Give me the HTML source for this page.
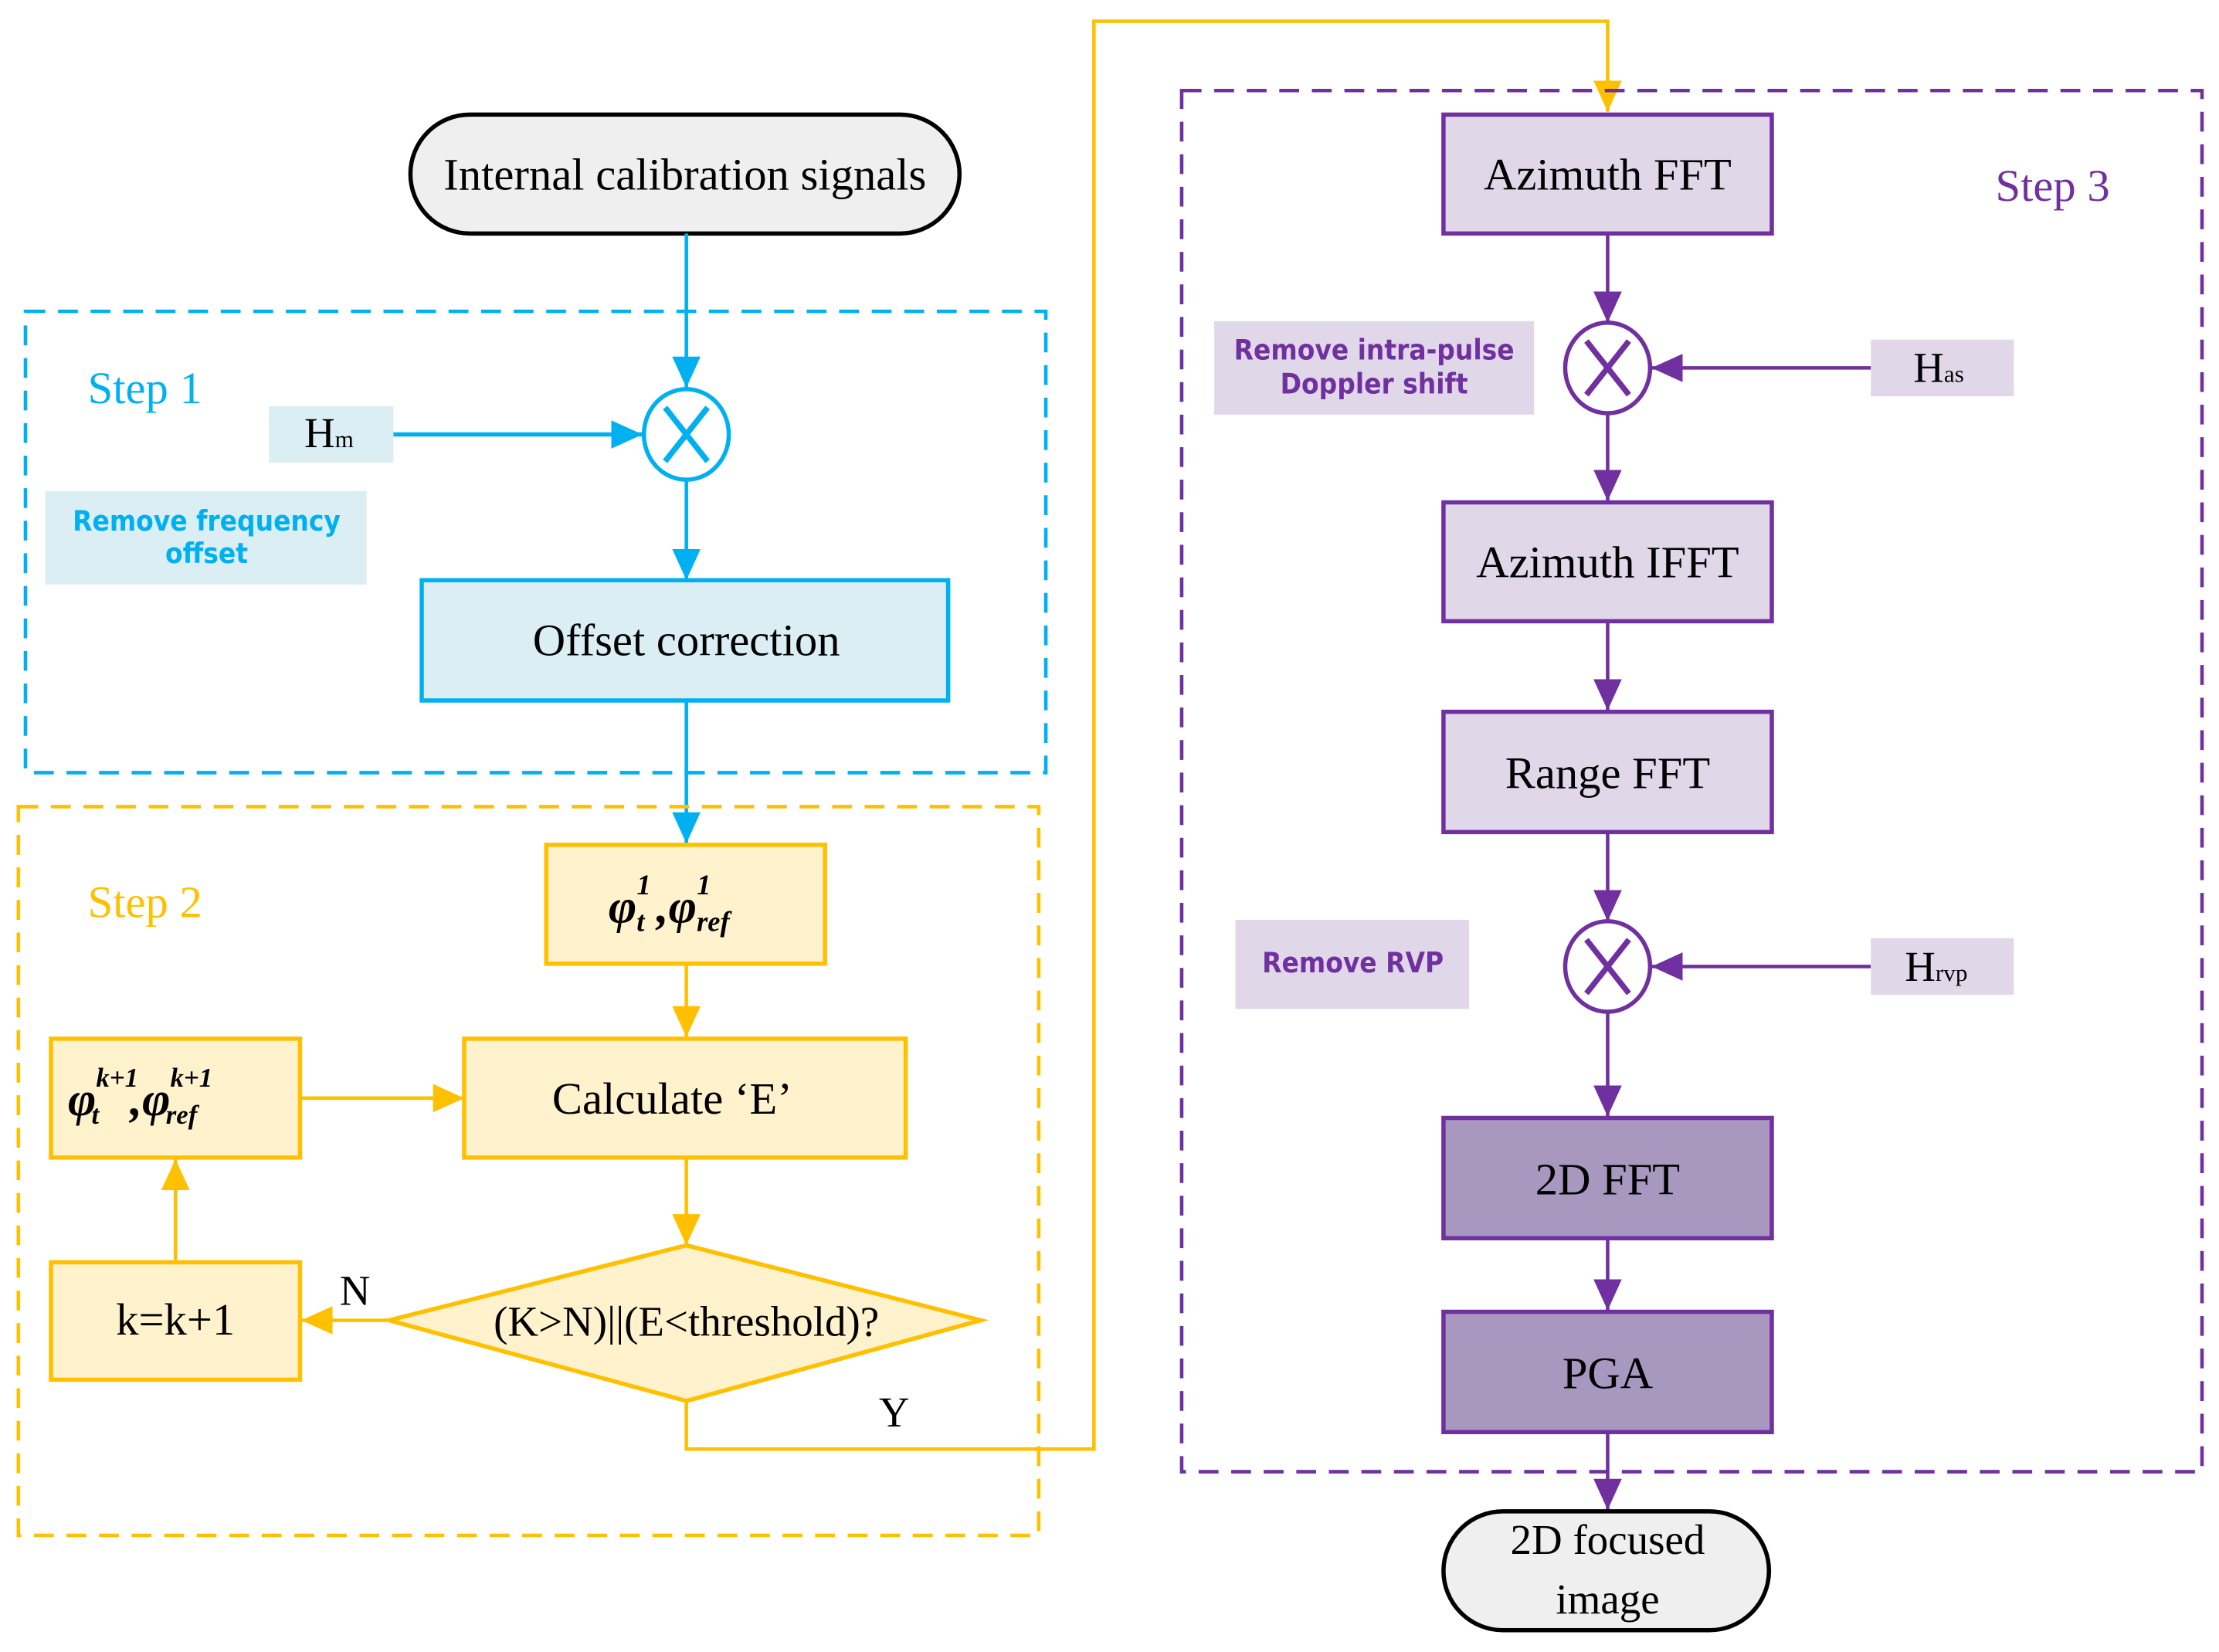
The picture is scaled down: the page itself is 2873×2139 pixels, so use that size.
<!DOCTYPE html>
<html><head><meta charset="utf-8"><style>html,body{margin:0;padding:0;background:#fff}svg{display:block}</style></head><body>
<svg width="2873" height="2139" viewBox="0 0 1568 1167.4" xmlns="http://www.w3.org/2000/svg" font-family="Liberation Serif, serif">
<defs>
<marker id="ab" markerWidth="10" markerHeight="10" refX="10" refY="5" orient="auto" markerUnits="userSpaceOnUse" viewBox="0 0 10 10"><path d="M0,0L10,5L0,10z" fill="#00b0f0"/></marker>
<marker id="ao" markerWidth="22" markerHeight="20" refX="22" refY="10" orient="auto" markerUnits="userSpaceOnUse"><path d="M0,0L22,10L0,20z" fill="#ffc000"/></marker>
<marker id="ap" markerWidth="22" markerHeight="20" refX="22" refY="10" orient="auto" markerUnits="userSpaceOnUse"><path d="M0,0L22,10L0,20z" fill="#7030a0"/></marker>
<marker id="ab2" markerWidth="22" markerHeight="20" refX="22" refY="10" orient="auto" markerUnits="userSpaceOnUse"><path d="M0,0L22,10L0,20z" fill="#00b0f0"/></marker>
</defs>

<!-- Step 1 -->
<rect x="18" y="220" width="721" height="326" fill="none" stroke="#00b0f0" stroke-width="2.5" stroke-dasharray="14,9"/>
<text x="62" y="285" font-size="32" fill="#00b0f0">Step 1</text>
<rect x="290" y="81" width="388" height="84" rx="42" fill="#efefef" stroke="#000" stroke-width="3"/>
<text x="484" y="134" font-size="32" text-anchor="middle">Internal calibration signals</text>
<line x1="485" y1="165" x2="485" y2="274" stroke="#00b0f0" stroke-width="2.5" marker-end="url(#ab2)"/>
<ellipse cx="485" cy="307" rx="30" ry="32" fill="#fff" stroke="#00b0f0" stroke-width="3"/>
<path d="M470,288L500,326M500,288L470,326" stroke="#00b0f0" stroke-width="4"/>
<rect x="190" y="287" width="88" height="40" fill="#dbeef4"/>
<text x="215" y="316" font-size="30">H<tspan font-size="17">m</tspan></text>
<line x1="278" y1="307" x2="454" y2="307" stroke="#00b0f0" stroke-width="3" marker-end="url(#ab2)"/>
<rect x="32" y="347" width="227" height="66" fill="#dbeef4"/>
<text x="146" y="375" font-size="20" font-weight="bold" fill="#00b0f0" text-anchor="middle" font-family="DejaVu Sans Condensed, DejaVu Sans, sans-serif">Remove frequency</text>
<text x="146" y="398" font-size="20" font-weight="bold" fill="#00b0f0" text-anchor="middle" font-family="DejaVu Sans Condensed, DejaVu Sans, sans-serif">offset</text>
<line x1="485" y1="339" x2="485" y2="410" stroke="#00b0f0" stroke-width="2.5" marker-end="url(#ab2)"/>
<rect x="298" y="410" width="372" height="85" fill="#dbeef4" stroke="#00b0f0" stroke-width="3"/>
<text x="485" y="463" font-size="32" text-anchor="middle">Offset correction</text>
<line x1="485" y1="495" x2="485" y2="596" stroke="#00b0f0" stroke-width="2.5" marker-end="url(#ab2)"/>

<!-- Step 2 -->
<rect x="13" y="570" width="721" height="515" fill="none" stroke="#ffc000" stroke-width="2.5" stroke-dasharray="14,9"/>
<text x="62" y="648" font-size="32" fill="#ffc000">Step 2</text>
<rect x="386" y="597" width="197" height="84" fill="#fff2cc" stroke="#ffc000" stroke-width="3"/>
<text x="430" y="652" font-size="34" font-weight="bold" font-style="italic">φ<tspan font-size="20" dy="-20">1</tspan><tspan font-size="20" dx="-10" dy="26">t</tspan><tspan dy="-6" font-size="34"> ,φ</tspan><tspan font-size="20" dy="-20">1</tspan><tspan font-size="20" dx="-10" dy="26">ref</tspan></text>
<line x1="485" y1="681" x2="485" y2="733" stroke="#ffc000" stroke-width="2.5" marker-end="url(#ao)"/>
<rect x="328" y="734" width="312" height="84" fill="#fff2cc" stroke="#ffc000" stroke-width="3"/>
<text x="475" y="787" font-size="32" text-anchor="middle">Calculate ‘E’</text>
<rect x="36" y="734" width="176" height="84" fill="#fff2cc" stroke="#ffc000" stroke-width="3"/>
<text x="48" y="788" font-size="34" font-weight="bold" font-style="italic">φ<tspan font-size="19" dy="-20">k+1</tspan><tspan font-size="19" dx="-33" dy="26">t</tspan><tspan dy="-6" font-size="34" dx="22">,φ</tspan><tspan font-size="19" dy="-20">k+1</tspan><tspan font-size="19" dx="-33" dy="26">ref</tspan></text>
<line x1="212" y1="776" x2="328" y2="776" stroke="#ffc000" stroke-width="2.5" marker-end="url(#ao)"/>
<line x1="485" y1="818" x2="485" y2="880" stroke="#ffc000" stroke-width="2.5" marker-end="url(#ao)"/>
<path d="M485,880L693,933L485,990L275,933z" fill="#fff2cc" stroke="#ffc000" stroke-width="3"/>
<text x="485" y="944" font-size="30" text-anchor="middle">(K&gt;N)||(E&lt;threshold)?</text>
<line x1="275" y1="933" x2="213" y2="933" stroke="#ffc000" stroke-width="2.5" marker-end="url(#ao)"/>
<text x="240" y="922" font-size="30">N</text>
<rect x="36" y="892" width="176" height="83" fill="#fff2cc" stroke="#ffc000" stroke-width="3"/>
<text x="124" y="943" font-size="32" text-anchor="middle">k=k+1</text>
<line x1="124" y1="892" x2="124" y2="819" stroke="#ffc000" stroke-width="2.5" marker-end="url(#ao)"/>
<text x="621" y="1008" font-size="30">Y</text>
<polyline points="485,990 485,1024 773,1024 773,15 1136,15 1136,79" fill="none" stroke="#ffc000" stroke-width="2.5" marker-end="url(#ao)"/>

<!-- Step 3 -->
<rect x="835" y="64" width="721" height="976" fill="none" stroke="#7030a0" stroke-width="2.5" stroke-dasharray="14,9"/>
<text x="1410" y="142" font-size="32" fill="#7030a0">Step 3</text>
<g stroke="#7030a0" stroke-width="3">
<rect x="1020" y="81" width="232" height="84" fill="#e0d8e8"/>
<rect x="1020" y="355" width="232" height="84" fill="#e0d8e8"/>
<rect x="1020" y="503" width="232" height="85" fill="#e0d8e8"/>
<rect x="1020" y="790" width="232" height="85" fill="#a898c0"/>
<rect x="1020" y="927" width="232" height="85" fill="#a898c0"/>
</g>
<text x="1136" y="134" font-size="32" text-anchor="middle">Azimuth FFT</text>
<text x="1136" y="408" font-size="32" text-anchor="middle">Azimuth IFFT</text>
<text x="1136" y="557" font-size="32" text-anchor="middle">Range FFT</text>
<text x="1136" y="844" font-size="32" text-anchor="middle">2D FFT</text>
<text x="1136" y="981" font-size="32" text-anchor="middle">PGA</text>
<g stroke="#7030a0" stroke-width="2.5">
<line x1="1136" y1="165" x2="1136" y2="228" marker-end="url(#ap)"/>
<line x1="1136" y1="292" x2="1136" y2="354" marker-end="url(#ap)"/>
<line x1="1136" y1="439" x2="1136" y2="502" marker-end="url(#ap)"/>
<line x1="1136" y1="588" x2="1136" y2="651" marker-end="url(#ap)"/>
<line x1="1136" y1="715" x2="1136" y2="789" marker-end="url(#ap)"/>
<line x1="1136" y1="875" x2="1136" y2="926" marker-end="url(#ap)"/>
<line x1="1136" y1="1012" x2="1136" y2="1067" marker-end="url(#ap)"/>
<line x1="1322" y1="260" x2="1167" y2="260" marker-end="url(#ap)"/>
<line x1="1322" y1="683" x2="1167" y2="683" marker-end="url(#ap)"/>
</g>
<g stroke="#7030a0" fill="#fff">
<ellipse cx="1136" cy="260" rx="30" ry="32" stroke-width="3"/>
<path d="M1121,241L1151,279M1151,241L1121,279" stroke-width="4"/>
<ellipse cx="1136" cy="683" rx="30" ry="32" stroke-width="3"/>
<path d="M1121,664L1151,702M1151,664L1121,702" stroke-width="4"/>
</g>
<rect x="1322" y="240" width="101" height="40" fill="#e0d8e8"/>
<text x="1352" y="270" font-size="30">H<tspan font-size="17">as</tspan></text>
<rect x="1322" y="663" width="101" height="40" fill="#e0d8e8"/>
<text x="1346" y="693" font-size="30">H<tspan font-size="17">rvp</tspan></text>
<g font-family="DejaVu Sans Condensed, DejaVu Sans, sans-serif" font-weight="bold" font-size="20" fill="#7030a0" text-anchor="middle">
<rect x="858" y="227" width="226" height="66" fill="#e0d8e8"/>
<text x="971" y="254">Remove intra-pulse</text>
<text x="971" y="278">Doppler shift</text>
<rect x="873" y="650" width="165" height="63" fill="#e0d8e8"/>
<text x="956" y="687">Remove RVP</text>
</g>
<rect x="1020" y="1068" width="230" height="84" rx="42" fill="#efefef" stroke="#000" stroke-width="3"/>
<text x="1136" y="1098" font-size="30" text-anchor="middle">2D focused</text>
<text x="1136" y="1140" font-size="30" text-anchor="middle">image</text>
</svg>
</body></html>
